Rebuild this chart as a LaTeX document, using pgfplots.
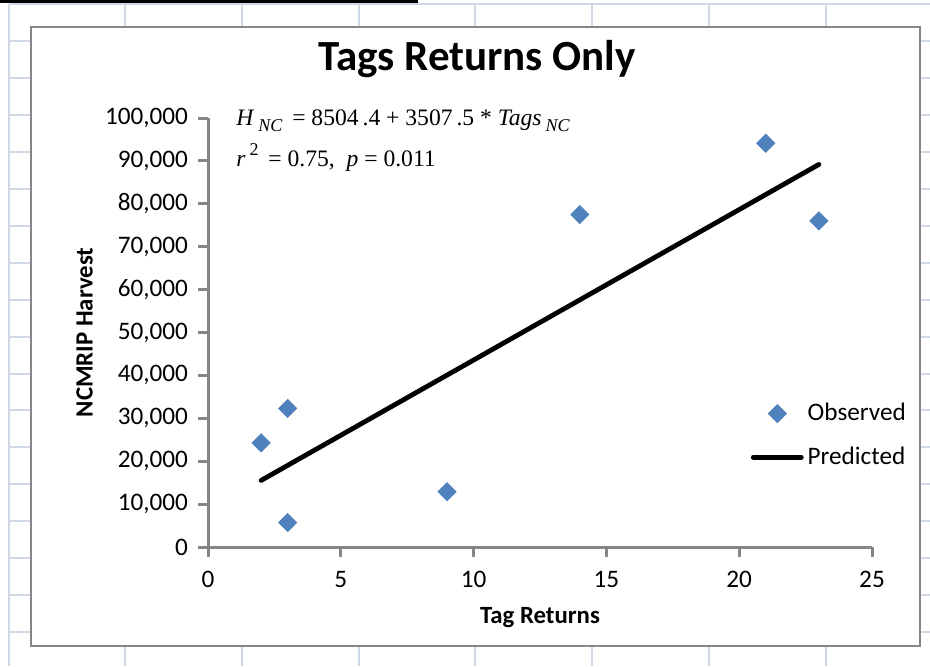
\documentclass[border=0pt]{standalone}
\usepackage{fontspec}
\setmainfont{Carlito}
\newfontfamily\eqfont{Liberation Serif}
\usepackage{pgfplots}
\pgfplotsset{compat=1.18}

\definecolor{obsblue}{HTML}{4F81BD}
\definecolor{axisgray}{HTML}{868686}
\definecolor{cellgrid}{HTML}{D0D7E5}

\newcommand{\sub}[1]{\raisebox{-3.4pt}{\fontsize{9}{9}\selectfont\itshape #1}}

\begin{document}
\begin{tikzpicture}
% sheet behind the chart, 1 unit = 1 px of the screenshot
\begin{scope}[x=0.5pt,y=0.5pt]
  \useasboundingbox (0,0) rectangle (930,666);
  \foreach \k in {0,...,7}
    \draw[cellgrid, line width=1pt] ({8.6+116.7*\k},0) -- ({8.6+116.7*\k},661.5);
  \foreach \k in {0,...,17}
    \draw[cellgrid, line width=1pt] (8.6,{661.5-36.9*\k}) -- (930,{661.5-36.9*\k});
  \draw[black, line width=1.5pt] (0,664.5) -- (418,664.5);
  \draw[axisgray, line width=1.35pt, fill=white] (31,20) rectangle (920,639);
  \node[font=\bfseries\fontsize{21.5}{26}\selectfont, anchor=base, inner sep=0pt] at (477,596) {Tags Returns Only};
  \node[font=\eqfont\fontsize{11.8}{14}\selectfont, anchor=base west, inner sep=0pt] at (236,541)
    {\textit{H}\,\sub{NC}\ \,= 8504\,.4 + 3507\,.5 * \textit{Tags}\,\sub{NC}};
  \node[font=\eqfont\fontsize{11.8}{14}\selectfont, anchor=base west, inner sep=0pt] at (236,500)
    {\textit{r}\,\raisebox{5.5pt}{\fontsize{9}{9}\selectfont 2}\, = 0.75,\ \ \textit{p} = 0.011};
\end{scope}

\begin{axis}[
  at={(104pt,59.5pt)}, anchor=origin,
  width=332pt, height=214.5pt, scale only axis,
  xmin=0, xmax=25, ymin=0, ymax=100000,
  axis lines=left,
  axis line style={-, draw=axisgray, line width=1.5pt},
  xtick={0,5,...,25},
  ytick={0,10000,...,100000},
  tick align=outside, major tick length=5pt,
  tick style={draw=axisgray, line width=1.5pt},
  scaled y ticks=false,
  yticklabel style={xshift=-1.5pt, /pgf/number format/.cd, fixed, 1000 sep={,}, assume math mode=true},
  xticklabel style={yshift=-3.5pt, /pgf/number format/assume math mode=true},
  ticklabel style={font=\fontsize{12.6}{15}\selectfont},
  xlabel={Tag Returns},
  ylabel={NCMRIP Harvest},
  every axis x label/.style={at={(axis description cs:0.5,-0.178)}, anchor=base, font=\bfseries\fontsize{12.4}{15}\selectfont},
  every axis y label/.style={at={(axis description cs:-0.186,0.5)}, rotate=90, anchor=center, font=\bfseries\fontsize{12.4}{15}\selectfont},
  legend style={draw=none, fill=none, at={(axis description cs:0.817,0.345)}, anchor=north west,
    font=\fontsize{12.6}{15}\selectfont, row sep=7.5pt, inner sep=0pt},
  legend cell align=left,
  legend image code/.code={\draw[mark repeat=2,mark phase=2,#1] plot coordinates {(0pt,0pt) (12pt,0pt) (24pt,0pt)};},
  clip=false,
]
\addplot[only marks, mark=square*, mark size=3.2pt,
  mark options={rotate=45, fill=obsblue, draw=obsblue, line width=0.4pt}]
  coordinates {(2,24300) (3,32300) (3,5700) (9,12900) (14,77500) (21,94100) (23,76000)};
\addlegendentry{Observed}
\addplot[black, line width=2.4pt, line cap=round, mark=none]
  coordinates {(2,15519.4) (3,19026.9) (9,40071.9) (14,57609.4) (21,82161.9) (23,89176.9)};
\addlegendentry{Predicted}
\end{axis}
\end{tikzpicture}
\end{document}
